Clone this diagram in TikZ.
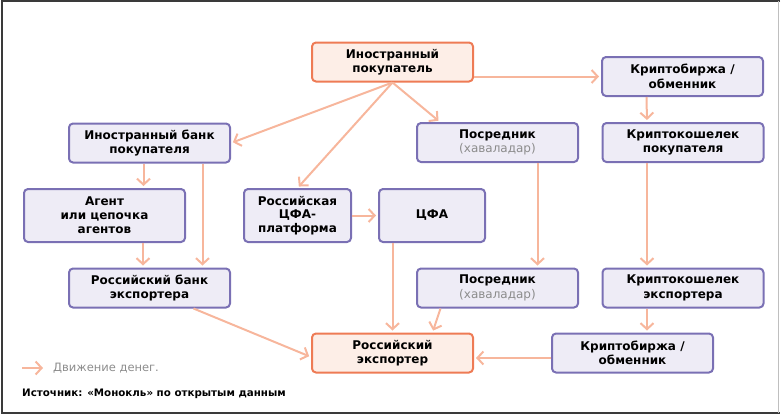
\documentclass[tikz,border=0pt]{standalone}
\usepackage{fontspec}
\setmainfont{DejaVu Sans}
\usetikzlibrary{arrows.meta, positioning}
\definecolor{flowc}{HTML}{F7B69C}
\definecolor{hotc}{HTML}{EE7B55}
\definecolor{hotfill}{HTML}{FDEEE7}
\definecolor{boxc}{HTML}{7A70B4}
\definecolor{boxfill}{HTML}{EEECF6}
\definecolor{notec}{HTML}{8C8C8C}
\definecolor{framec}{HTML}{3A3A3A}

\begin{document}
\begin{tikzpicture}[
  x=1pt, y=-1pt,
  box/.style={draw=boxc, fill=boxfill, line width=2pt, rounded corners=4pt,
              minimum width=161pt, minimum height=39pt, align=center, inner sep=2pt,
              font=\fontsize{12}{14.5}\selectfont\bfseries},
  hotbox/.style={box, draw=hotc, fill=hotfill},
  tallbox/.style={box, minimum height=53pt, font=\fontsize{12}{13.8}\selectfont\bfseries},
  arr/.style={-{Straight Barb[length=6pt, width=13pt]}, flowc, line width=2pt,
              shorten >=2pt}
]
  \useasboundingbox (0,0) rectangle (784,416);
  \draw[framec, line width=1.5pt] (780,1) -- (2,1) -- (2,413) -- (780,413);
  \draw[black!25, line width=1pt] (778,1) -- (778,413);

  % boxes
  \node[hotbox] (buyer) at (392.5,62) {Иностранный\\покупатель};
  \node[box] (exchA) at (682.5,76.5) {Криптобиржа /\\обменник};
  \node[box] (fbank) at (149.5,143) {Иностранный банк\\покупателя};
  \node[box] (hawA) at (497.5,142.5) {Посредник\\\textcolor{notec}{\mdseries(хаваладар)}};
  \node[box] (walletA) at (683,142.5) {Криптокошелек\\покупателя};
  \node[tallbox] (agent) at (104.5,215.5) {Агент\\или цепочка\\агентов};
  \node[tallbox, minimum width=107pt] (dfaplat) at (297.5,215.5) {Российская\\ЦФА-\\платформа};
  \node[tallbox, minimum width=106pt] (dfa) at (432,215.5) {ЦФА};
  \node[box] (rbank) at (149.5,288) {Российский банк\\экспортера};
  \node[box] (hawB) at (497.5,288) {Посредник\\\textcolor{notec}{\mdseries(хаваладар)}};
  \node[box] (walletB) at (683,288) {Криптокошелек\\экспортера};
  \node[hotbox] (exporter) at (392.5,353) {Российский\\экспортер};
  \node[box] (exchB) at (632.5,353) {Криптобиржа /\\обменник};

  % money flows
  \draw[arr] (buyer.south) -- (fbank.east);
  \draw[arr] (buyer.south) -- (dfaplat.north);
  \draw[arr] (buyer.south) -- ([xshift=24pt]hawA.north west);
  \draw[arr] (buyer.east |- exchA.west) -- (exchA.west);
  \draw[arr] ([xshift=-36pt]exchA.south) -- ([xshift=-36pt]walletA.north);
  \draw[arr] ([xshift=-36pt]walletA.south) -- ([xshift=-36pt]walletB.north);
  \draw[arr] ([xshift=-36pt]walletB.south) -- ([xshift=-36pt]walletB.south |- exchB.north);
  \draw[arr] ([yshift=-5pt]exchB.west) -- ([yshift=-5pt]exporter.east);
  \draw[arr] ([xshift=40pt]hawA.south) -- ([xshift=40pt]hawB.north);
  \draw[arr] ([xshift=-57pt]hawB.south) -- ([xshift=40pt]exporter.north);
  \draw[arr] (dfa.south -| exporter.north) -- (exporter.north);
  \draw[arr] (dfaplat.east) -- (dfa.west);
  \draw[arr] ([xshift=-6pt]fbank.south) -- ([xshift=-6pt]fbank.south |- agent.north);
  \draw[arr] ([xshift=53pt]fbank.south) -- ([xshift=53pt]rbank.north);
  \draw[arr] ([xshift=38.5pt]agent.south) -- ([xshift=38.5pt]agent.south |- rbank.north);
  \draw[arr] ([xshift=44pt]rbank.south) -- ([yshift=-4pt]exporter.west);

  % legend and source
  \coordinate (legA) at (22,368);
  \coordinate (legB) at (45,368);
  \draw[arr] (legA) -- (legB);
  \node[anchor=west, notec, font=\fontsize{11.5}{13}\selectfont, inner sep=0pt] (legend) at (53,368) {Движение денег.};
  \node[anchor=west, font=\fontsize{10.3}{12}\selectfont\bfseries, inner sep=0pt] (source) at (22,394) {Источник: «Монокль» по открытым данным};
\end{tikzpicture}
\end{document}
